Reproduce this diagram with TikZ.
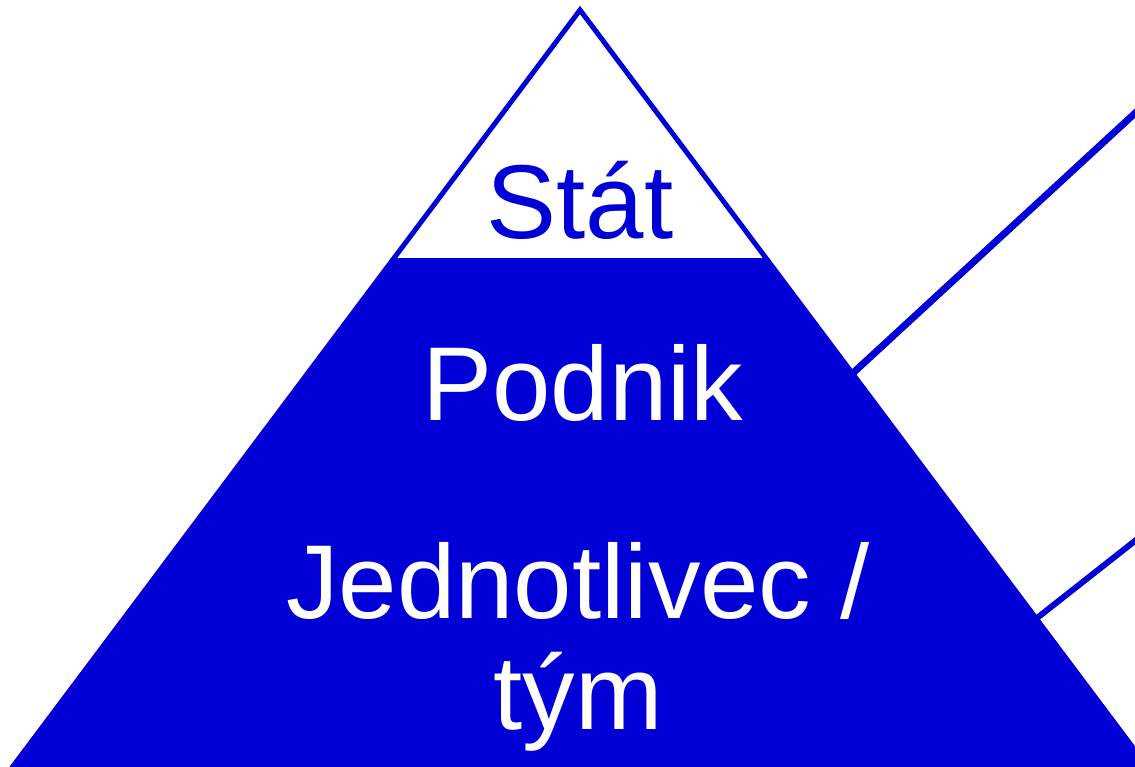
\documentclass[tikz,border=0pt]{standalone}
\usepackage{fontspec}
\setmainfont{Liberation Sans}
\definecolor{pyblue}{RGB}{0,0,214}
\tikzset{
  lbl/.style={font=\fontsize{105}{111}\selectfont, inner sep=0pt, anchor=base, align=center},
  conn/.style={draw=pyblue, line width=7pt},
}
\begin{document}
\begin{tikzpicture}[x=1pt,y=-1pt]
\useasboundingbox (0,0) rectangle (1135,767);
\begin{scope}
\clip (0,0) rectangle (1135,767);
% filled lower part of pyramid
\fill[pyblue] (392.5,260) -- (767.5,260) -- (1160,783) -- (0,783) -- cycle;
\coordinate (apex) at (580,10);
\coordinate (bl) at (0.5,783);
\coordinate (br) at (1159.5,783);
\draw[pyblue, line width=5pt, line join=miter] (bl) -- (apex) -- (br);
\draw[pyblue, line width=4pt] (393,260) -- (767,260);
% connectors
\coordinate (p1) at (853,373);
\coordinate (q1) at (1145,104);
\coordinate (p2) at (1037,618);
\coordinate (q2) at (1145,533);
\draw[conn] (p1) -- (q1);
\draw[conn, line width=6pt] (p2) -- (q2);
\end{scope}
\node[lbl, text=pyblue] (stat) at (580,239) {Stát};
\node[lbl, text=white] (podnik) at (583,420) {Podnik};
\node[lbl, text=white] (jedn) at (578,729) {Jednotlivec /\\tým};
\end{tikzpicture}
\end{document}
